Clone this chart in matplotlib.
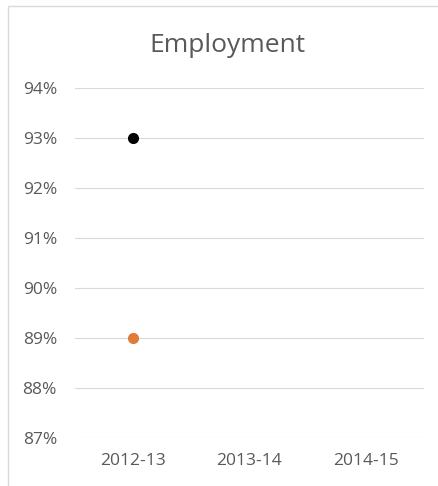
import matplotlib
matplotlib.use('Agg')
import matplotlib.pyplot as plt
import matplotlib.patches as mpatches
from matplotlib.ticker import FuncFormatter

categories = ['2012-13', '2013-14', '2014-15']
series_a = [0.93]   # black
series_b = [0.89]   # orange
yticks = [0.87, 0.88, 0.89, 0.90, 0.91, 0.92, 0.93, 0.94]

plt.rcParams['font.family'] = ['Open Sans', 'DejaVu Sans']

W, H = 439, 486
fig = plt.figure(figsize=(W / 100, H / 100), dpi=100)
fig.patch.set_facecolor('white')

# chart frame (left + top edges visible)
fig.add_artist(mpatches.Rectangle((8 / W, -0.01), 1.1, 1 - 6 / H + 0.01,
                                  transform=fig.transFigure, fill=False,
                                  edgecolor='#d9d9d9', lw=1.0))

ax = fig.add_axes([75 / W, 1 - 438 / H, (424 - 75) / W, (438 - 88) / H])
x = list(range(len(categories)))
ax.plot(x[:len(series_a)], series_a, 'o', color='black', ms=7)
ax.plot(x[:len(series_b)], series_b, 'o', color='#e07b39', ms=7)

ax.set_xlim(-0.5, len(categories) - 0.5)
ax.set_ylim(yticks[0], yticks[-1])
ax.set_yticks(yticks)
ax.yaxis.set_major_formatter(FuncFormatter(lambda v, p: f'{v*100:.0f}%'))
ax.set_xticks(x)
ax.set_xticklabels(categories)
ax.grid(axis='y', color='#d9d9d9', lw=0.8)
ax.set_axisbelow(True)
for s in ax.spines.values():
    s.set_visible(False)
ax.tick_params(length=0, colors='#595959', labelsize=12.5)
ax.tick_params(axis='y', pad=13)
ax.tick_params(axis='x', pad=11)

fig.text(227 / W, 1 - 45 / H, 'Employment', ha='center', va='center',
         fontsize=19, color='#595959')

fig.savefig('out.png', dpi=100)
